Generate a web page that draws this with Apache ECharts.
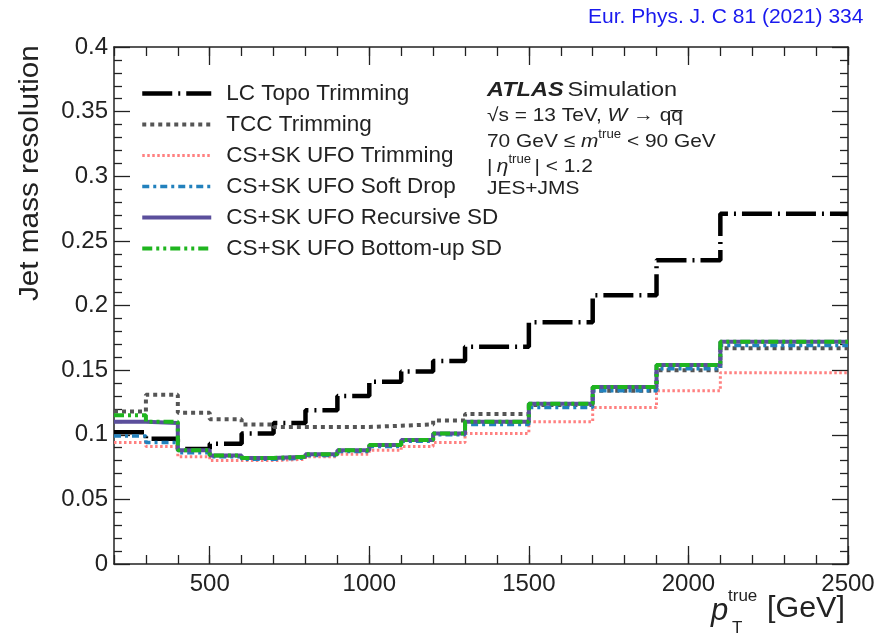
<!DOCTYPE html>
<html>
<head>
<meta charset="utf-8">
<script src="https://cdn.jsdelivr.net/npm/echarts@6/dist/echarts.min.js"></script>
<style>
  html, body { margin: 0; padding: 0; background: #fff; }
  #chart { width: 878px; height: 640px; }
</style>
</head>
<body>
<div id="chart"></div>
<script>
// bin edges in GeV (pT true)
const binEdges = [200, 300, 400, 500, 600, 700, 800, 900, 1000, 1100, 1200, 1300, 1500, 1700, 1900, 2100, 2500];

// one value per bin
const lcTopoTrim = [0.102, 0.097, 0.089, 0.093, 0.101, 0.109, 0.119, 0.130, 0.141, 0.149, 0.157, 0.168, 0.187, 0.208, 0.235, 0.271];
const tccTrim    = [0.118, 0.131, 0.117, 0.112, 0.108, 0.106, 0.106, 0.106, 0.107, 0.108, 0.111, 0.116, 0.123, 0.134, 0.150, 0.167];
const ufoTrim    = [0.094, 0.091, 0.083, 0.080, 0.080, 0.081, 0.083, 0.085, 0.088, 0.091, 0.094, 0.101, 0.110, 0.121, 0.134, 0.148];
const ufoSD      = [0.099, 0.094, 0.086, 0.083, 0.081, 0.082, 0.084, 0.087, 0.091, 0.095, 0.100, 0.108, 0.121, 0.134, 0.151, 0.169];
const ufoRSD     = [0.110, 0.109, 0.088, 0.084, 0.082, 0.083, 0.085, 0.088, 0.092, 0.096, 0.101, 0.110, 0.124, 0.137, 0.154, 0.172];
const ufoBUSD    = [0.115, 0.110, 0.088, 0.084, 0.082, 0.083, 0.085, 0.088, 0.092, 0.096, 0.101, 0.110, 0.124, 0.137, 0.154, 0.172];

const seriesNames = [
  'LC Topo Trimming',
  'TCC Trimming',
  'CS+SK UFO Trimming',
  'CS+SK UFO Soft Drop',
  'CS+SK UFO Recursive SD',
  'CS+SK UFO Bottom-up SD'
];

const xMajorTicks = [500, 1000, 1500, 2000, 2500];

function stepData(vals) {
  const d = vals.map((v, i) => [binEdges[i], v]);
  d.push([binEdges[binEdges.length - 1], vals[vals.length - 1]]);
  return d;
}

const FONT = 'Liberation Sans, Arial, Helvetica, sans-serif';
const INK = '#222';

// style per series: color, width, dash
const styles = [
  ['#000000', 4.5, [30, 6, 2, 6]],
  ['#555555', 4, [4, 4]],
  ['#ff8080', 3, [2.5, 2.5]],
  ['#2281bd', 3.5, [7, 4, 3, 4]],
  ['#5b4f9c', 4, 'solid'],
  ['#1fb51f', 4, [10, 4, 3, 4, 3, 4]]
];
const allValues = [lcTopoTrim, tccTrim, ufoTrim, ufoSD, ufoRSD, ufoBUSD];

function histo(i) {
  const [color, width, dash] = styles[i];
  return {
    name: seriesNames[i],
    type: 'line',
    step: 'end',
    xAxisIndex: 0,
    yAxisIndex: 0,
    symbol: 'none',
    data: stepData(allValues[i]),
    lineStyle: { color: color, width: width, type: dash },
    itemStyle: { color: color },
    animation: false
  };
}

const chart = echarts.init(document.getElementById('chart'));

const baseX = {
  type: 'value', gridIndex: 0, min: 200, max: 2500,
  splitLine: { show: false }
};
const tickLine = { color: INK, width: 1.3 };

chart.setOption({
  backgroundColor: '#fff',
  animation: false,
  grid: { left: 114, right: 30, top: 47, bottom: 76 },
  xAxis: [
    Object.assign({}, baseX, {
      position: 'bottom',
      axisLine: { show: true, lineStyle: { color: INK, width: 1.5 } },
      axisTick: { show: true, inside: true, length: 18, customValues: xMajorTicks, lineStyle: tickLine },
      axisLabel: { show: true, customValues: xMajorTicks, formatter: v => String(v),
                   fontFamily: FONT, fontSize: 24, color: INK, margin: 8 }
    }),
    Object.assign({}, baseX, {
      position: 'bottom', interval: 100,
      axisLine: { show: false },
      axisTick: { show: true, inside: true, length: 9, lineStyle: tickLine },
      axisLabel: { show: false }
    }),
    Object.assign({}, baseX, {
      position: 'top',
      axisLine: { show: true, lineStyle: { color: INK, width: 1.5 } },
      axisTick: { show: true, inside: true, length: 18, customValues: xMajorTicks, lineStyle: tickLine },
      axisLabel: { show: false }
    }),
    Object.assign({}, baseX, {
      position: 'top', interval: 100,
      axisLine: { show: false },
      axisTick: { show: true, inside: true, length: 9, lineStyle: tickLine },
      axisLabel: { show: false }
    })
  ],
  yAxis: [
    {
      type: 'value', min: 0, max: 0.4, interval: 0.05, position: 'left',
      axisLine: { show: true, lineStyle: { color: INK, width: 1.5 } },
      axisTick: { show: true, inside: true, length: 16, lineStyle: tickLine },
      minorTick: { show: true, splitNumber: 5, length: 8, lineStyle: tickLine },
      axisLabel: { fontFamily: FONT, fontSize: 24, color: INK, margin: 6, formatter: v => String(v) },
      splitLine: { show: false }
    },
    {
      type: 'value', min: 0, max: 0.4, interval: 0.05, position: 'right',
      axisLine: { show: true, lineStyle: { color: INK, width: 1.5 } },
      axisTick: { show: true, inside: true, length: 16, lineStyle: tickLine },
      minorTick: { show: true, splitNumber: 5, length: 8, lineStyle: tickLine },
      axisLabel: { show: false },
      splitLine: { show: false }
    }
  ],
  legend: {
    orient: 'vertical',
    left: 140,
    top: 82,
    padding: 0,
    itemWidth: 69,
    itemHeight: 24,
    itemGap: 8,
    itemStyle: { color: 'rgba(0,0,0,0)', borderWidth: 0, opacity: 0 },
    textStyle: { fontFamily: FONT, fontSize: 22.5, color: INK, padding: [0, 0, 0, 10] },
    data: seriesNames.map((n, i) => ({
      name: n,
      lineStyle: { color: styles[i][0], width: styles[i][1], type: styles[i][2] }
    }))
  },
  series: seriesNames.map((n, i) => histo(i)),
  graphic: [
    {
      type: 'text', x: 588, y: 7,
      style: { text: 'Eur. Phys. J. C 81 (2021) 334', fontFamily: FONT, fontSize: 21, fill: '#1a1aee' }
    },
    {
      type: 'text', x: 31, y: 301, rotation: Math.PI / 2, scaleX: 1.1,
      style: { text: 'Jet mass resolution', fontFamily: FONT, fontSize: 27, fill: INK, textAlign: 'left', textVerticalAlign: 'middle' }
    },
    {
      type: 'text', x: 487, y: 90, scaleX: 1.12,
      style: {
        text: '{b|ATLAS} {r|Simulation}',
        textVerticalAlign: 'middle',
        rich: {
          b: { fontFamily: FONT, fontSize: 21, fontWeight: 'bold', fontStyle: 'italic', fill: INK },
          r: { fontFamily: FONT, fontSize: 21, fill: INK }
        }
      }
    },
    {
      type: 'text', x: 487, y: 116, scaleX: 1.1,
      style: {
        text: '{r|\u221As = 13 TeV, }{i|W}{r| \u2192 q}{r|q\u0305}',
        textVerticalAlign: 'middle',
        rich: {
          r: { fontFamily: FONT, fontSize: 19, fill: INK },
          i: { fontFamily: FONT, fontSize: 19, fontStyle: 'italic', fill: INK }
        }
      }
    },
    {
      type: 'text', x: 487, y: 140, scaleX: 1.1,
      style: {
        text: '{r|70 GeV \u2264 }{i|m}{s|true}{r| < 90 GeV}',
        textVerticalAlign: 'middle',
        rich: {
          r: { fontFamily: FONT, fontSize: 19, fill: INK, lineHeight: 22, verticalAlign: 'bottom' },
          i: { fontFamily: FONT, fontSize: 19, fontStyle: 'italic', fill: INK, lineHeight: 22, verticalAlign: 'bottom' },
          s: { fontFamily: FONT, fontSize: 12, fill: INK, verticalAlign: 'top', lineHeight: 22 }
        }
      }
    },
    {
      type: 'text', x: 487, y: 165, scaleX: 1.1,
      style: {
        text: '{r||}{i|\u03B7}{s|true}{r|| < 1.2}',
        textVerticalAlign: 'middle',
        rich: {
          r: { fontFamily: FONT, fontSize: 19, fill: INK, lineHeight: 22, verticalAlign: 'bottom' },
          i: { fontFamily: FONT, fontSize: 19, fontStyle: 'italic', fill: INK, lineHeight: 22, verticalAlign: 'bottom', padding: [0, 0, 0, 4] },
          s: { fontFamily: FONT, fontSize: 12, fill: INK, verticalAlign: 'top', lineHeight: 22, padding: [0, 3, 0, 0] }
        }
      }
    },
    {
      type: 'text', x: 487, y: 189, scaleX: 1.1,
      style: { text: 'JES+JMS', fontFamily: FONT, fontSize: 19, fill: INK, textVerticalAlign: 'middle' }
    },
    {
      type: 'text', x: 711, y: 596,
      style: { text: 'p', fontFamily: FONT, fontSize: 31, fontStyle: 'italic', fill: INK }
    },
    {
      type: 'text', x: 728, y: 588,
      style: { text: 'true', fontFamily: FONT, fontSize: 17, fill: INK }
    },
    {
      type: 'text', x: 732, y: 620,
      style: { text: 'T', fontFamily: FONT, fontSize: 17, fill: INK }
    },
    {
      type: 'text', x: 767, y: 594, scaleX: 1.05,
      style: { text: '[GeV]', fontFamily: FONT, fontSize: 29, fill: INK }
    }
  ]
});
</script>
</body>
</html>
